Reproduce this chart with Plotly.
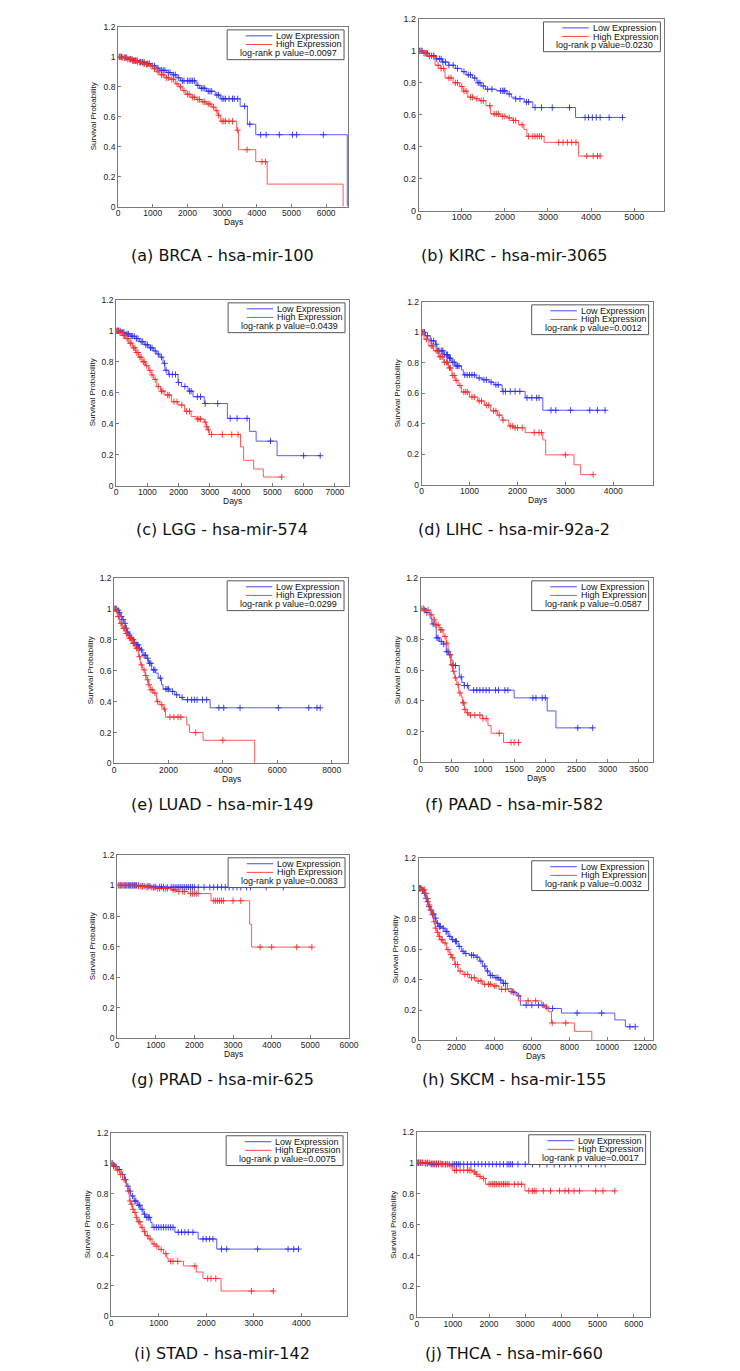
import numpy as np
import plotly.graph_objects as go

W, H = 740, 1371

# ---------------- data ----------------
captions = ["(a) BRCA - hsa-mir-100", "(b) KIRC - hsa-mir-3065", "(c) LGG - hsa-mir-574",
            "(d) LIHC - hsa-mir-92a-2", "(e) LUAD - hsa-mir-149", "(f) PAAD - hsa-mir-582",
            "(g) PRAD - hsa-mir-625", "(h) SKCM - hsa-mir-155", "(i) STAD - hsa-mir-142",
            "(j) THCA - hsa-mir-660"]
p_values = ["0.0097", "0.0230", "0.0439", "0.0012", "0.0299", "0.0587", "0.0083", "0.0032", "0.0075", "0.0017"]
x_max = [6630, 5700, 7450, 4820, 8600, 3720, 6000, 12400, 4960, 6440]
x_dtick = [1000, 1000, 1000, 1000, 2000, 500, 1000, 2000, 1000, 1000]
y_ticks = [0, 0.2, 0.4, 0.6, 0.8, 1.0, 1.2]
y_ticktext = ["0", "0.2", "0.4", "0.6", "0.8", "1", "1.2"]

BRCA_low_t = [150, 300, 450, 600, 800, 950, 1100, 1200, 1400, 1550, 1700, 1800, 2250, 2350, 2550, 2800, 2950, 3520, 3730, 3970, 6610]
BRCA_low_s = [0.995, 0.985, 0.975, 0.965, 0.955, 0.94, 0.925, 0.91, 0.895, 0.88, 0.86, 0.84, 0.81, 0.79, 0.77, 0.745, 0.72, 0.67, 0.55, 0.48, 0.0]
BRCA_low_c = [50, 100, 200, 250, 350, 400, 450, 500, 550, 650, 700, 750, 850, 900, 1000, 1050, 1150, 1250, 1300, 1350, 1450, 1500, 1600, 1650, 1750, 1850, 1900, 2000, 2050, 2100, 2150, 2200, 2300, 2400, 2450, 2500, 2600, 2650, 2700, 2850, 2900, 3000, 3050, 3100, 3200, 3300, 3350, 3450, 3650, 3800, 4110, 4270, 4650, 5030, 5150, 5920]
BRCA_high_t = [100, 250, 400, 550, 700, 800, 900, 1000, 1100, 1200, 1350, 1500, 1650, 1750, 1850, 1950, 2100, 2250, 2400, 2550, 2700, 2800, 2880, 2950, 3420, 3470, 3970, 4300, 6490]
BRCA_high_s = [0.995, 0.985, 0.975, 0.965, 0.955, 0.95, 0.94, 0.92, 0.90, 0.88, 0.86, 0.85, 0.82, 0.80, 0.775, 0.75, 0.73, 0.715, 0.70, 0.685, 0.665, 0.64, 0.61, 0.57, 0.51, 0.38, 0.30, 0.15, 0.0]
BRCA_high_c = [30, 60, 120, 180, 220, 280, 320, 360, 420, 480, 520, 560, 620, 660, 720, 760, 820, 860, 950, 1050, 1150, 1250, 1300, 1400, 1450, 1550, 1600, 1700, 1800, 1900, 2000, 2050, 2150, 2200, 2300, 2350, 2450, 2500, 2600, 2650, 2750, 2850, 2900, 3000, 3050, 3100, 3200, 3300, 3450, 3720, 4150, 4250]

KIRC_low_t = [100, 250, 400, 550, 700, 850, 1000, 1100, 1250, 1350, 1450, 1550, 1800, 2050, 2150, 2250, 2450, 2650, 3640]
KIRC_low_s = [0.985, 0.97, 0.95, 0.93, 0.91, 0.89, 0.87, 0.85, 0.83, 0.80, 0.78, 0.76, 0.75, 0.73, 0.71, 0.70, 0.68, 0.645, 0.583]
KIRC_low_c = [30, 80, 150, 200, 300, 350, 420, 480, 520, 560, 620, 700, 800, 900, 1050, 1150, 1200, 1300, 1380, 1420, 1500, 1600, 1700, 1900, 1950, 1980, 2000, 2100, 2250, 2350, 2500, 2550, 2700, 2850, 3100, 3500, 3860, 3940, 4030, 4120, 4210, 4420, 4730]
KIRC_high_t = [100, 220, 380, 500, 610, 800, 950, 1030, 1140, 1300, 1420, 1560, 1670, 1900, 2050, 2170, 2320, 2440, 2510, 2910, 3710]
KIRC_high_s = [0.985, 0.965, 0.91, 0.89, 0.83, 0.80, 0.777, 0.748, 0.71, 0.70, 0.688, 0.657, 0.605, 0.59, 0.58, 0.564, 0.537, 0.508, 0.465, 0.427, 0.341]
KIRC_high_c = [20, 60, 120, 180, 250, 350, 450, 520, 580, 700, 750, 850, 900, 1000, 1050, 1100, 1200, 1250, 1350, 1450, 1500, 1650, 1750, 1800, 1850, 1950, 2000, 2100, 2200, 2250, 2400, 2550, 2650, 2700, 2750, 2800, 2850, 3250, 3350, 3450, 3550, 3650, 3900, 4050, 4150, 4210]

LGG_low_t = [150, 300, 450, 600, 750, 900, 1050, 1200, 1300, 1400, 1500, 1560, 1670, 1980, 2090, 2300, 2460, 2820, 3560, 4270, 4480, 5150]
LGG_low_s = [0.99, 0.98, 0.965, 0.95, 0.93, 0.91, 0.89, 0.87, 0.85, 0.83, 0.79, 0.745, 0.718, 0.666, 0.64, 0.61, 0.574, 0.53, 0.434, 0.35, 0.287, 0.193]
LGG_low_c = [30, 80, 130, 200, 250, 350, 400, 480, 520, 580, 650, 700, 800, 850, 950, 1000, 1100, 1150, 1250, 1350, 1450, 1550, 1600, 1700, 1800, 1900, 2000, 2200, 2350, 2400, 2600, 2700, 2850, 3250, 3650, 3870, 4190, 4940, 6000, 6530]
LGG_high_t = [100, 200, 300, 410, 520, 620, 720, 830, 940, 1040, 1120, 1200, 1300, 1420, 1560, 1770, 1980, 2190, 2400, 2560, 2820, 2880, 2930, 2980, 3980, 4080, 4400, 4710]
LGG_high_s = [0.99, 0.97, 0.95, 0.92, 0.89, 0.86, 0.83, 0.80, 0.775, 0.745, 0.715, 0.686, 0.64, 0.61, 0.585, 0.542, 0.52, 0.48, 0.446, 0.43, 0.41, 0.38, 0.36, 0.33, 0.25, 0.163, 0.107, 0.055]
LGG_high_c = [20, 50, 80, 120, 160, 230, 270, 350, 380, 450, 480, 560, 600, 660, 700, 760, 800, 870, 900, 980, 1080, 1150, 1250, 1350, 1450, 1500, 1650, 1700, 1850, 1950, 2100, 2250, 2350, 2600, 2650, 2700, 2850, 2900, 2950, 3050, 3400, 3700, 3900, 5300]

LIHC_low_t = [80, 180, 290, 320, 460, 560, 630, 700, 830, 870, 1140, 1270, 1410, 1510, 1680, 2160, 2530]
LIHC_low_s = [0.977, 0.944, 0.922, 0.879, 0.853, 0.83, 0.803, 0.779, 0.753, 0.72, 0.70, 0.688, 0.673, 0.655, 0.612, 0.57, 0.488]
LIHC_low_c = [30, 60, 120, 200, 250, 300, 350, 380, 420, 440, 480, 520, 540, 580, 600, 650, 680, 720, 750, 780, 900, 950, 1000, 1050, 1100, 1200, 1300, 1350, 1450, 1550, 1600, 1700, 1750, 1850, 1950, 2050, 2200, 2300, 2400, 2450, 2700, 2800, 3110, 3510, 3670, 3830]
LIHC_high_t = [50, 150, 250, 350, 460, 560, 630, 700, 760, 830, 1000, 1170, 1310, 1440, 1580, 1680, 1820, 1920, 2160, 2530, 2590, 3180, 3320]
LIHC_high_s = [0.955, 0.911, 0.879, 0.84, 0.803, 0.766, 0.716, 0.684, 0.651, 0.608, 0.575, 0.549, 0.521, 0.484, 0.456, 0.423, 0.384, 0.373, 0.341, 0.293, 0.195, 0.13, 0.065]
LIHC_high_c = [20, 100, 200, 230, 300, 330, 380, 400, 430, 480, 520, 540, 580, 600, 650, 680, 720, 800, 880, 920, 960, 1050, 1100, 1200, 1250, 1350, 1400, 1500, 1550, 1620, 1700, 1850, 1900, 1950, 2000, 2100, 2350, 2450, 2500, 3000, 3580]

LUAD_low_t = [100, 180, 240, 300, 360, 420, 480, 540, 600, 660, 720, 780, 900, 960, 1050, 1200, 1260, 1380, 1530, 1620, 1740, 1800, 2050, 2230, 2410, 2530, 3530]
LUAD_low_s = [0.99, 0.975, 0.95, 0.93, 0.906, 0.874, 0.85, 0.83, 0.815, 0.80, 0.783, 0.766, 0.745, 0.734, 0.70, 0.68, 0.648, 0.605, 0.584, 0.552, 0.509, 0.481, 0.466, 0.444, 0.427, 0.412, 0.36]
LUAD_low_c = [30, 80, 150, 200, 260, 330, 400, 450, 500, 560, 620, 700, 750, 820, 850, 880, 930, 1000, 1100, 1150, 1230, 1300, 1350, 1450, 1500, 1700, 1900, 1950, 2000, 2150, 2300, 2500, 2700, 2850, 2950, 3050, 3250, 3400, 3850, 4030, 4630, 6040, 7160, 7460, 7580]
LUAD_high_t = [60, 120, 200, 300, 420, 540, 660, 780, 900, 960, 1050, 1140, 1200, 1260, 1320, 1440, 1560, 1680, 1800, 1890, 2670, 2770, 3270, 5170]
LUAD_high_s = [0.99, 0.95, 0.906, 0.874, 0.84, 0.81, 0.777, 0.745, 0.69, 0.637, 0.605, 0.569, 0.541, 0.509, 0.477, 0.455, 0.40, 0.38, 0.352, 0.30, 0.25, 0.20, 0.15, 0.0]
LUAD_high_c = [20, 50, 90, 150, 180, 250, 280, 350, 380, 450, 500, 560, 600, 640, 700, 720, 750, 820, 850, 930, 1000, 1100, 1160, 1230, 1280, 1350, 1400, 1500, 1600, 1750, 1850, 2050, 2200, 2350, 2450, 3000, 4000]

PAAD_low_t = [80, 150, 180, 230, 250, 300, 360, 410, 450, 490, 520, 620, 660, 700, 770, 1500, 2030, 2170]
PAAD_low_s = [0.974, 0.937, 0.90, 0.88, 0.81, 0.787, 0.77, 0.72, 0.70, 0.664, 0.63, 0.556, 0.52, 0.50, 0.47, 0.42, 0.335, 0.225]
PAAD_low_c = [50, 100, 200, 260, 280, 330, 370, 420, 440, 470, 520, 560, 650, 700, 750, 850, 900, 950, 1000, 1050, 1100, 1200, 1250, 1350, 1400, 1800, 1850, 1950, 2000, 2520, 2760]
PAAD_high_t = [40, 150, 200, 230, 300, 360, 410, 440, 460, 480, 510, 540, 580, 610, 650, 670, 700, 725, 770, 990, 1080, 1130, 1330]
PAAD_high_s = [0.99, 0.96, 0.927, 0.894, 0.862, 0.819, 0.776, 0.733, 0.70, 0.636, 0.593, 0.55, 0.506, 0.452, 0.425, 0.388, 0.345, 0.323, 0.308, 0.285, 0.24, 0.19, 0.13]
PAAD_high_c = [20, 60, 120, 170, 220, 250, 280, 320, 340, 390, 420, 470, 500, 530, 560, 600, 630, 680, 690, 710, 750, 800, 870, 950, 1000, 1050, 1260, 1450, 1500, 1570]

PRAD_low_t = [600, 900, 1300]
PRAD_low_s = [0.995, 0.99, 0.988]
PRAD_low_c = [50, 100, 150, 200, 250, 300, 350, 400, 450, 500, 550, 650, 700, 800, 850, 950, 1000, 1100, 1150, 1200, 1300, 1400, 1450, 1500, 1550, 1600, 1650, 1700, 1750, 1800, 1850, 1900, 1950, 2000, 2100, 2250, 2400, 2500, 2600, 2700, 2800, 2900, 3000, 3100, 3200, 3350, 3450, 3860, 4300]
PRAD_high_t = [500, 700, 850, 1000, 1400, 1550, 1840, 2430, 3430, 3480]
PRAD_high_s = [0.995, 0.99, 0.985, 0.98, 0.97, 0.96, 0.947, 0.90, 0.746, 0.597]
PRAD_high_c = [30, 80, 120, 180, 220, 280, 320, 380, 420, 480, 550, 600, 650, 750, 800, 900, 950, 1050, 1100, 1200, 1250, 1300, 1450, 1500, 1600, 1700, 1750, 1900, 1950, 2000, 2050, 2100, 2500, 2550, 2600, 2650, 2700, 2750, 3000, 3200, 3700, 4000, 4650, 5040]

SKCM_low_t = [170, 260, 350, 430, 520, 610, 700, 820, 920, 1040, 1220, 1390, 1570, 1740, 1910, 2090, 2260, 2430, 2700, 3040, 3220, 3390, 3570, 3740, 4000, 4260, 4430, 4700, 4960, 5220, 5390, 6700, 7570, 10400, 10960]
SKCM_low_s = [0.987, 0.966, 0.933, 0.911, 0.879, 0.857, 0.83, 0.803, 0.77, 0.749, 0.738, 0.716, 0.684, 0.662, 0.651, 0.618, 0.586, 0.571, 0.56, 0.547, 0.521, 0.488, 0.456, 0.427, 0.412, 0.397, 0.375, 0.34, 0.315, 0.293, 0.232, 0.21, 0.18, 0.135, 0.09]
SKCM_low_c = [50, 100, 200, 300, 400, 480, 560, 650, 750, 800, 900, 1000, 1100, 1150, 1300, 1450, 1500, 1650, 1800, 1950, 2000, 2150, 2350, 2500, 2800, 2900, 3100, 3300, 3500, 3650, 3800, 3900, 4100, 4200, 4350, 4500, 4600, 5050, 5300, 5700, 6000, 6350, 6600, 7100, 8400, 9700, 11200, 11480]
SKCM_high_t = [170, 350, 430, 520, 610, 700, 780, 870, 960, 1040, 1130, 1300, 1480, 1620, 1740, 1910, 2090, 2350, 2700, 3040, 3390, 3910, 4260, 4780, 5130, 5300, 6520, 6870, 7040, 8260, 9180]
SKCM_high_s = [0.99, 0.966, 0.933, 0.89, 0.857, 0.825, 0.78, 0.738, 0.71, 0.684, 0.662, 0.64, 0.597, 0.564, 0.543, 0.499, 0.456, 0.434, 0.412, 0.391, 0.369, 0.358, 0.336, 0.321, 0.304, 0.26, 0.22, 0.19, 0.115, 0.06, 0.0]
SKCM_high_c = [30, 80, 130, 220, 300, 380, 460, 550, 650, 740, 820, 900, 1000, 1100, 1200, 1250, 1400, 1550, 1700, 1800, 1950, 2050, 2200, 2450, 2600, 2800, 2950, 3150, 3300, 3500, 3700, 3800, 4000, 4100, 4400, 4600, 4900, 5000, 5800, 6200, 6780, 7080, 7800]

STAD_low_t = [30, 70, 140, 210, 280, 320, 380, 410, 480, 550, 620, 670, 720, 830, 860, 1340, 1830, 2220]
STAD_low_s = [0.99, 0.98, 0.96, 0.927, 0.894, 0.851, 0.819, 0.787, 0.754, 0.726, 0.70, 0.668, 0.647, 0.614, 0.582, 0.55, 0.506, 0.44]
STAD_low_c = [20, 50, 100, 170, 240, 300, 350, 400, 450, 500, 520, 580, 600, 650, 700, 750, 780, 800, 900, 950, 1000, 1050, 1100, 1150, 1200, 1250, 1300, 1410, 1480, 1550, 1620, 1720, 1930, 2000, 2070, 2140, 2320, 2430, 3080, 3720, 3840, 3940]
STAD_high_t = [30, 100, 170, 240, 310, 340, 380, 410, 450, 480, 520, 550, 620, 670, 720, 790, 860, 930, 1000, 1100, 1170, 1200, 1520, 1790, 1930, 2310]
STAD_high_s = [0.98, 0.955, 0.927, 0.894, 0.862, 0.819, 0.754, 0.733, 0.70, 0.679, 0.647, 0.619, 0.582, 0.554, 0.528, 0.506, 0.474, 0.459, 0.4375, 0.41, 0.381, 0.36, 0.33, 0.29, 0.248, 0.166]
STAD_high_c = [15, 50, 80, 130, 200, 270, 360, 400, 430, 460, 500, 530, 580, 600, 650, 700, 760, 820, 900, 960, 1050, 1150, 1250, 1300, 1400, 1760, 2030, 2100, 2200, 2950, 3410]

THCA_low_t = [200, 350]
THCA_low_s = [0.995, 0.99]
THCA_low_c = [50, 100, 150, 250, 300, 400, 450, 500, 550, 600, 700, 800, 900, 1000, 1050, 1100, 1150, 1200, 1300, 1400, 1500, 1600, 1700, 1800, 1900, 2000, 2100, 2200, 2300, 2400, 2500, 2550, 2600, 2650, 2800, 3000, 3200, 3400, 3600, 3800, 3950, 4100, 4250, 4400, 4550, 4750, 4950, 5100, 5210]
THCA_high_t = [400, 700, 900, 1000, 1540, 1620, 1700, 1780, 1900, 2990]
THCA_high_s = [0.995, 0.99, 0.98, 0.951, 0.94, 0.926, 0.912, 0.898, 0.861, 0.818]
THCA_high_c = [20, 60, 100, 150, 200, 250, 300, 350, 400, 450, 500, 550, 600, 650, 700, 750, 800, 850, 950, 1050, 1100, 1200, 1300, 1400, 1450, 1500, 1600, 1650, 1750, 1850, 2000, 2050, 2100, 2150, 2200, 2250, 2300, 2350, 2400, 2450, 2500, 2550, 2700, 2800, 2900, 3100, 3200, 3250, 3300, 3500, 3700, 3950, 4100, 4200, 4350, 4500, 4950, 5150, 5480]

low_series = [
    (BRCA_low_t, BRCA_low_s, BRCA_low_c), (KIRC_low_t, KIRC_low_s, KIRC_low_c),
    (LGG_low_t, LGG_low_s, LGG_low_c), (LIHC_low_t, LIHC_low_s, LIHC_low_c),
    (LUAD_low_t, LUAD_low_s, LUAD_low_c), (PAAD_low_t, PAAD_low_s, PAAD_low_c),
    (PRAD_low_t, PRAD_low_s, PRAD_low_c), (SKCM_low_t, SKCM_low_s, SKCM_low_c),
    (STAD_low_t, STAD_low_s, STAD_low_c), (THCA_low_t, THCA_low_s, THCA_low_c)]
high_series = [
    (BRCA_high_t, BRCA_high_s, BRCA_high_c), (KIRC_high_t, KIRC_high_s, KIRC_high_c),
    (LGG_high_t, LGG_high_s, LGG_high_c), (LIHC_high_t, LIHC_high_s, LIHC_high_c),
    (LUAD_high_t, LUAD_high_s, LUAD_high_c), (PAAD_high_t, PAAD_high_s, PAAD_high_c),
    (PRAD_high_t, PRAD_high_s, PRAD_high_c), (SKCM_high_t, SKCM_high_s, SKCM_high_c),
    (STAD_high_t, STAD_high_s, STAD_high_c), (THCA_high_t, THCA_high_s, THCA_high_c)]

# ---------------- layout (pixel boxes: left, right, top, bottom) ----------------
boxes = [(109, 343, 14, 195), (415, 665, 6, 199),
         (107, 344, 289, 476), (418, 653, 291, 475),
         (105, 343, 569, 756), (417, 653, 569, 755),
         (108, 344, 848, 1033), (415, 653, 851, 1035),
         (102, 342, 1128, 1313), (413, 650, 1127, 1314)]
ylabel_x = [84, None, 83, 393, 81, 393, 83, 391, 78, 389]
show_days = [True, False, True, True, True, True, True, True, False, False]
caption_y = [244, 244, 520, 520, 797, 797, 1074, 1074, 1350, 1350]
caption_x = [215, 512] * 5

BLUE_LINE, BLUE_MARK = "rgb(70,70,255)", "rgb(45,45,240)"
RED_LINE, RED_MARK = "rgb(255,70,70)", "rgb(240,45,45)"
AXC = "#7a7a7a"
FONT = "Liberation Sans, Arial, sans-serif"


def km_curve(t, s, c):
    n = min(len(t), len(s))
    t, s = list(t[:n]), list(s[:n])
    end = max(max(t), max(c))
    x = [0] + t + [end]
    y = [1.0] + s + [s[-1]]
    ta, sa = np.array(t), np.array(s)
    idx = np.searchsorted(ta, np.array(c), side="right") - 1
    cy = np.where(idx < 0, 1.0, sa[np.clip(idx, 0, None)])
    return x, y, list(c), list(cy)


fig = go.Figure()
shapes, annotations = [], []

for i in range(10):
    n = "" if i == 0 else str(i + 1)
    L, R, T, B = boxes[i]
    for (t, s, c), lc, mc in ((low_series[i], BLUE_LINE, BLUE_MARK), (high_series[i], RED_LINE, RED_MARK)):
        x, y, cx, cy = km_curve(t, s, c)
        fig.add_trace(go.Scatter(x=x, y=y, mode="lines", line=dict(color=lc, width=0.9, shape="hv"),
                                 xaxis="x" + n, yaxis="y" + n, showlegend=False, hoverinfo="skip"))
        fig.add_trace(go.Scatter(x=cx, y=cy, mode="markers",
                                 marker=dict(symbol="cross-thin", size=4.5, line=dict(color=mc, width=0.9)),
                                 xaxis="x" + n, yaxis="y" + n, showlegend=False, hoverinfo="skip"))
    tsize = 9 if i == 1 else 8.5
    fig.layout["xaxis" + n] = dict(domain=[L / W, R / W], range=[0, x_max[i]], anchor="y" + n,
                                   tick0=0, dtick=x_dtick[i], tickformat="d", showline=True, mirror=True,
                                   linecolor=AXC, linewidth=1, ticks="inside", ticklen=3, tickcolor=AXC,
                                   showgrid=False, zeroline=False, ticklabelstandoff=-2,
                                   tickfont=dict(family=FONT, size=tsize, color="#222"))
    fig.layout["yaxis" + n] = dict(domain=[1 - B / H, 1 - T / H], range=[0, 1.2], anchor="x" + n,
                                   tickvals=y_ticks, ticktext=y_ticktext, showline=True, mirror=True,
                                   linecolor=AXC, linewidth=1, ticks="inside", ticklen=3, tickcolor=AXC,
                                   showgrid=False, zeroline=False,
                                   tickfont=dict(family=FONT, size=tsize, color="#222"))
    # legend box
    bR = R - 4
    bL = bR - 119
    bT = T + 3
    bB = bT + 30
    shapes.append(dict(type="rect", xref="paper", yref="paper", x0=bL / W, x1=bR / W,
                       y0=1 - bB / H, y1=1 - bT / H, line=dict(color="#555", width=1), fillcolor="white"))
    for k, (col, lab) in enumerate(((BLUE_LINE, "Low Expression"), (RED_LINE, "High Expression"))):
        ry = bT + 6 + 8.7 * k
        shapes.append(dict(type="line", xref="paper", yref="paper", x0=(bL + 19) / W, x1=(bL + 46) / W,
                           y0=1 - ry / H, y1=1 - ry / H, line=dict(color=col, width=1)))
        annotations.append(dict(xref="paper", yref="paper", x=(bL + 48) / W, y=1 - ry / H, text=lab,
                                showarrow=False, xanchor="left", yanchor="middle",
                                font=dict(family=FONT, size=9, color="#111")))
    annotations.append(dict(xref="paper", yref="paper", x=(bR - 5) / W, y=1 - (bT + 23.5) / H,
                            text="log-rank p value=" + p_values[i], showarrow=False, xanchor="right",
                            yanchor="middle", font=dict(family=FONT, size=9, color="#111")))
    if ylabel_x[i] is not None:
        annotations.append(dict(xref="paper", yref="paper", x=ylabel_x[i] / W, y=1 - ((T + B) / 2) / H,
                                text="Survival Probability", textangle=-90, showarrow=False,
                                xanchor="center", yanchor="middle", font=dict(family=FONT, size=8, color="#111")))
    if show_days[i]:
        annotations.append(dict(xref="paper", yref="paper", x=((L + R) / 2) / W, y=1 - (B + 16) / H,
                                text="Days", showarrow=False, xanchor="center", yanchor="middle",
                                font=dict(family=FONT, size=8.5, color="#111")))
    annotations.append(dict(xref="paper", yref="paper", x=caption_x[i] / W, y=1 - caption_y[i] / H,
                            text=captions[i], showarrow=False, xanchor="center", yanchor="middle",
                            font=dict(family="DejaVu Sans, Verdana, sans-serif", size=16, color="#111")))

fig.update_layout(width=W, height=H, margin=dict(l=0, r=0, t=0, b=0), plot_bgcolor="white",
                  paper_bgcolor="white", shapes=shapes, annotations=annotations, showlegend=False)
fig.write_html("out.html")
